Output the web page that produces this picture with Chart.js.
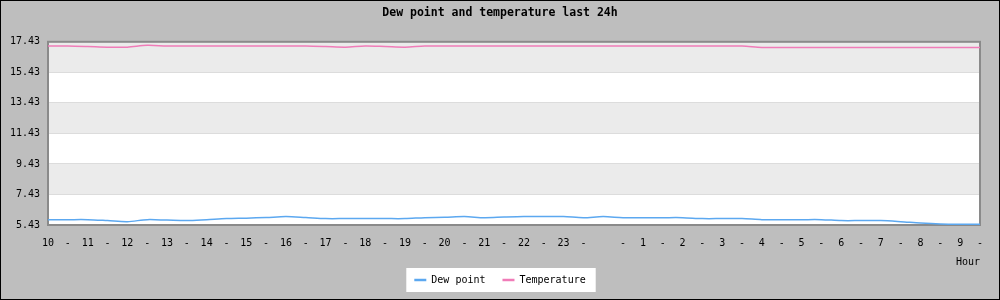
<!DOCTYPE html>
<html>
<head>
<meta charset="utf-8">
<script src="https://cdn.jsdelivr.net/npm/chart.js@4/dist/chart.umd.min.js"></script>
<style>
  html, body { margin: 0; padding: 0; background: #bebebe; }
  canvas { display: block; background: #bebebe; }
</style>
</head>
<body>
<canvas id="chart" width="1000" height="300"></canvas>
<script>
// half-hour slots over the last 24h, hour 0 is left blank on the axis
const xLabels = [
    '10', '-', '11', '-', '12', '-', '13', '-', '14', '-', '15', '-', '16', '-',
    '17', '-', '18', '-', '19', '-', '20', '-', '21', '-', '22', '-', '23', '-',
    '', '-', '1', '-', '2', '-', '3', '-', '4', '-', '5', '-', '6', '-',
    '7', '-', '8', '-', '9', '-'
];

const dewPoint = [
    5.78, 5.78, 5.78, 5.72, 5.65, 5.78, 5.75, 5.72, 5.78, 5.85,
    5.88, 5.92, 5.98, 5.92, 5.85, 5.85, 5.85, 5.85, 5.85, 5.91,
    5.93, 5.98, 5.91, 5.95, 5.98, 5.98, 5.98, 5.91, 5.98, 5.91,
    5.91, 5.91, 5.91, 5.85, 5.85, 5.85, 5.78, 5.78, 5.78, 5.78,
    5.72, 5.72, 5.72, 5.65, 5.56, 5.50, 5.48, 5.48
];

const temperature = [
    17.15, 17.15, 17.12, 17.08, 17.08, 17.20, 17.15, 17.15, 17.15, 17.15,
    17.15, 17.15, 17.15, 17.15, 17.12, 17.08, 17.15, 17.12, 17.08, 17.15,
    17.15, 17.15, 17.15, 17.15, 17.15, 17.15, 17.15, 17.15, 17.15, 17.15,
    17.15, 17.15, 17.15, 17.15, 17.15, 17.15, 17.06, 17.06, 17.06, 17.06,
    17.06, 17.06, 17.06, 17.06, 17.06, 17.06, 17.06, 17.06
];

const yTicks = [5.43, 7.43, 9.43, 11.43, 13.43, 15.43, 17.43];

const FONT = 'DejaVu Sans Mono';

// white plot area with grey bands, plus a white box behind the legend
const backdrop = {
    id: 'backdrop',
    beforeDraw(chart) {
        const { ctx, chartArea } = chart;
        const y = chart.scales.y;
        ctx.save();
        ctx.fillStyle = '#ffffff';
        ctx.fillRect(chartArea.left, chartArea.top, chartArea.width, chartArea.height);
        ctx.fillStyle = '#ebebeb';
        for (let i = yTicks.length - 1; i > 0; i -= 2) {
            const top = y.getPixelForValue(yTicks[i]);
            const bottom = y.getPixelForValue(yTicks[i - 1]);
            ctx.fillRect(chartArea.left, top, chartArea.width, bottom - top);
        }
        const boxes = chart.legend.legendHitBoxes;
        if (boxes && boxes.length) {
            const left = Math.min(...boxes.map(b => b.left));
            const right = Math.max(...boxes.map(b => b.left + b.width));
            const top = boxes[0].top;
            ctx.fillStyle = '#ffffff';
            ctx.fillRect(left - 8, top - 7, right - left + 18, boxes[0].height + 14);
        }
        ctx.restore();
    },
    beforeDatasetsDraw(chart) {
        const { ctx, chartArea } = chart;
        ctx.save();
        ctx.strokeStyle = '#8a8a8a';
        ctx.lineWidth = 2;
        ctx.strokeRect(chartArea.left, chartArea.top, chartArea.width, chartArea.height);
        ctx.restore();
    },
    afterDraw(chart) {
        const { ctx, width, height } = chart;
        ctx.save();
        ctx.strokeStyle = '#000000';
        ctx.lineWidth = 1;
        ctx.strokeRect(0.5, 0.5, width - 1, height - 1);
        ctx.restore();
    }
};

const defaultLabels = Chart.defaults.plugins.legend.labels.generateLabels;

new Chart(document.getElementById('chart'), {
    type: 'line',
    data: {
        labels: xLabels,
        datasets: [
            {
                label: 'Dew point',
                data: dewPoint,
                borderColor: '#5ca8f0',
                backgroundColor: '#5ca8f0',
                borderWidth: 1.5,
                pointRadius: 0,
                tension: 0.3
            },
            {
                label: 'Temperature',
                data: temperature,
                borderColor: '#f07cb8',
                backgroundColor: '#f07cb8',
                borderWidth: 1.5,
                pointRadius: 0,
                tension: 0.3
            }
        ]
    },
    options: {
        responsive: false,
        animation: false,
        layout: { padding: { left: 0, right: 0, top: 0, bottom: 5 } },
        scales: {
            x: {
                offset: false,
                grid: { display: false, drawTicks: false },
                border: { display: false },
                ticks: {
                    autoSkip: false,
                    maxRotation: 0,
                    minRotation: 0,
                    padding: 12,
                    color: '#000',
                    font: { family: FONT, size: 10 }
                },
                title: {
                    display: true,
                    text: 'Hour',
                    align: 'end',
                    color: '#000',
                    font: { family: FONT, size: 10 },
                    padding: { top: 0, bottom: -10 }
                },
                afterFit: (scale) => {
                    scale.height = 33;
                    scale.paddingRight = 20;
                }
            },
            y: {
                min: 5.43,
                max: 17.43,
                grid: { color: '#dcdcdc', drawTicks: false },
                border: { display: false },
                ticks: {
                    padding: 8,
                    color: '#000',
                    font: { family: FONT, size: 10 },
                    callback: (v) => Number(v).toFixed(2)
                },
                afterBuildTicks: (scale) => {
                    scale.ticks = yTicks.map(v => ({ value: v }));
                },
                afterFit: (scale) => { scale.width = 48; }
            }
        },
        plugins: {
            title: {
                display: true,
                text: 'Dew point and temperature last 24h',
                color: '#000',
                font: { family: FONT, size: 11.5, weight: 'bold' },
                padding: { top: 6, bottom: 22 }
            },
            legend: {
                position: 'bottom',
                labels: {
                    usePointStyle: true,
                    pointStyle: 'line',
                    pointStyleWidth: 12,
                    padding: 17,
                    color: '#000',
                    font: { family: FONT, size: 10 },
                    generateLabels: (chart) => defaultLabels(chart).map(item => ({
                        ...item,
                        lineWidth: 2.5
                    }))
                }
            },
            tooltip: { enabled: false }
        }
    },
    plugins: [backdrop]
});
</script>
</body>
</html>
